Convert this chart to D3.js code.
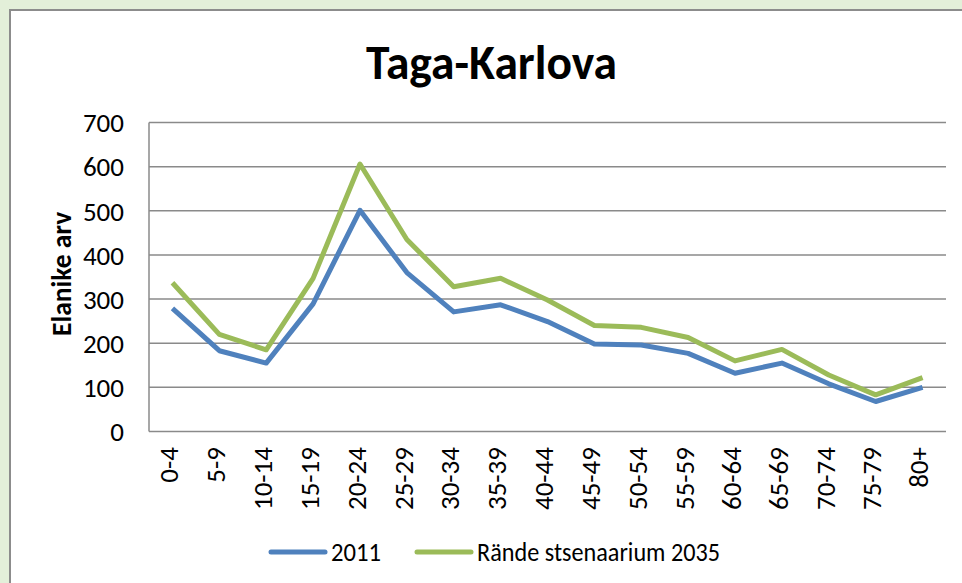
<!DOCTYPE html>
<html>
<head>
<meta charset="utf-8">
<script src="https://cdn.jsdelivr.net/npm/d3@7"></script>
<style>
  html, body { margin: 0; padding: 0; background: #e3efd9; }
  svg { display: block; font-family: Carlito, Lato, "Open Sans", sans-serif; }
</style>
</head>
<body>
<svg id="chart"></svg>
<script>
const ageGroups = ["0-4", "5-9", "10-14", "15-19", "20-24", "25-29", "30-34", "35-39", "40-44",
  "45-49", "50-54", "55-59", "60-64", "65-69", "70-74", "75-79", "80+"]
const pop2011 = [279, 183, 155, 289, 501, 360, 271, 287, 249, 198, 196, 177, 132, 155, 108, 68, 100]
const pop2035 = [337, 220, 185, 347, 606, 435, 328, 347, 298, 240, 236, 213, 160, 186, 128, 83, 122]
const yTicks = [0, 100, 200, 300, 400, 500, 600, 700]
const seriesNames = ["2011", "Rände stsenaarium 2035"]
const colors = ["#4f81bd", "#9bbb59"]

function draw_chart() {
  const width = 962, height = 583
  const svg = d3.select("#chart").attr("width", width).attr("height", height)

  // chart frame
  svg.append("rect")
    .attr("x", 10).attr("y", 10)
    .attr("width", 980).attr("height", 600)
    .attr("fill", "#fff")
    .attr("stroke", "#8c8c8c").attr("stroke-width", 2)

  const left = 149, right = 946, top = 122.5, bottom = 431.5

  const x = d3.scaleBand().domain(ageGroups).range([left, right])
  const y = d3.scaleLinear().domain([0, 700]).range([bottom, top])

  // gridlines
  svg.append("g")
    .selectAll("line")
    .data(yTicks)
    .enter().append("line")
    .attr("x1", left).attr("x2", right)
    .attr("y1", d => y(d)).attr("y2", d => y(d))
    .attr("stroke", "#8a8a8a").attr("stroke-width", 1.5)

  svg.append("line")
    .attr("x1", left).attr("x2", left)
    .attr("y1", top).attr("y2", bottom)
    .attr("stroke", "#8a8a8a").attr("stroke-width", 1.5)

  // y axis labels
  svg.append("g")
    .selectAll("text")
    .data(yTicks)
    .enter().append("text")
    .attr("x", 124)
    .attr("y", d => y(d))
    .attr("dy", "0.36em")
    .attr("text-anchor", "end")
    .attr("font-size", 27)
    .attr("fill", "#000")
    .text(d => d)

  // x axis labels
  svg.append("g")
    .selectAll("text")
    .data(ageGroups)
    .enter().append("text")
    .attr("transform", d => `translate(${x(d) + x.bandwidth() / 2 - 4},447) rotate(-90)`)
    .attr("dy", "0.36em")
    .attr("text-anchor", "end")
    .attr("font-size", 27)
    .attr("fill", "#000")
    .text(d => d)

  // lines
  const line = d3.line()
    .x((d, i) => x(ageGroups[i]) + x.bandwidth() / 2)
    .y(d => y(d))

  ;[pop2011, pop2035].forEach((s, i) => {
    svg.append("path")
      .datum(s)
      .attr("d", line)
      .attr("fill", "none")
      .attr("stroke", colors[i])
      .attr("stroke-width", 5)
      .attr("stroke-linejoin", "round")
  })

  // title
  svg.append("text")
    .attr("x", 366).attr("y", 79)
    .attr("font-size", 48)
    .attr("font-weight", "bold")
    .attr("textLength", 251)
    .attr("lengthAdjust", "spacingAndGlyphs")
    .text("Taga-Karlova")

  // y axis title
  svg.append("text")
    .attr("transform", "translate(61,336) rotate(-90)")
    .attr("dy", "0.36em")
    .attr("font-size", 27.5)
    .attr("font-weight", "bold")
    .text("Elanike arv")

  // legend
  const legend = [
    { x1: 271, x2: 325, tx: 331, tl: 50 },
    { x1: 417, x2: 471, tx: 477, tl: 243 }
  ]
  legend.forEach((l, i) => {
    svg.append("line")
      .attr("x1", l.x1).attr("x2", l.x2)
      .attr("y1", 552).attr("y2", 552)
      .attr("stroke", colors[i]).attr("stroke-width", 5)
      .attr("stroke-linecap", "round")
    svg.append("text")
      .attr("x", l.tx).attr("y", 552)
      .attr("dy", "0.36em")
      .attr("font-size", 26)
      .attr("textLength", l.tl)
      .attr("lengthAdjust", "spacingAndGlyphs")
      .text(seriesNames[i])
  })
}

draw_chart()
</script>
</body>
</html>
